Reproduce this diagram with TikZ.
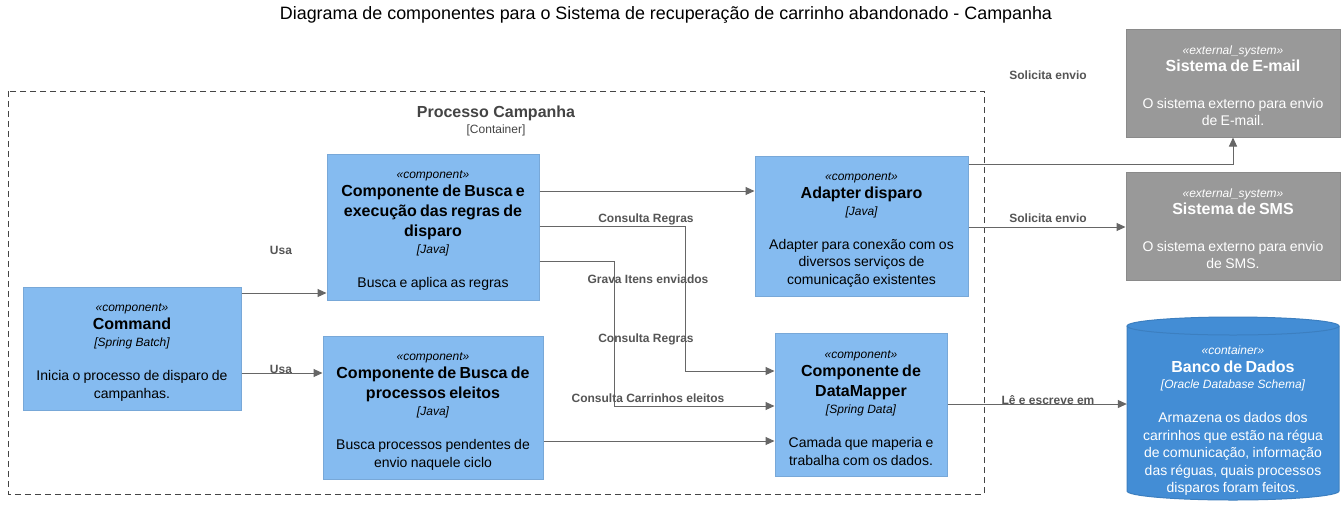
\documentclass[tikz,border=0pt]{standalone}
\usepackage{fontspec}
\setmainfont{Liberation Sans}
\usetikzlibrary{arrows.meta}
\definecolor{compfill}{HTML}{85BBF0}
\definecolor{compline}{HTML}{78A8D8}
\definecolor{extfill}{HTML}{999999}
\definecolor{extline}{HTML}{8A8A8A}
\definecolor{dbfill}{HTML}{438DD5}
\definecolor{dbline}{HTML}{3C7FC0}
\definecolor{relcol}{HTML}{666666}
\definecolor{lblcol}{HTML}{555555}
\definecolor{bndcol}{HTML}{444444}
\newcommand\cmpt[3]{%
{\fontsize{12pt}{14pt}\itshape\selectfont \rule{0pt}{15.5pt}«component»\par}%
\vspace{-2pt}{\fontsize{16pt}{20pt}\bfseries\selectfont #1\par}%
{\fontsize{12pt}{17pt}\itshape\selectfont [#2]\par}%
\vspace{16.5pt}{\fontsize{14pt}{17.5pt}\selectfont #3\par}}
\newcommand\extc[2]{%
{\fontsize{12pt}{14pt}\itshape\selectfont \rule{0pt}{13.8pt}«external\_system»\par}%
\vspace{-3pt}{\fontsize{16pt}{20pt}\bfseries\selectfont #1\par}%
\vspace{19.5pt}{\fontsize{14pt}{17.5pt}\selectfont #2\par}}
\newcommand\dbc[3]{%
{\fontsize{12pt}{14pt}\itshape\selectfont \rule{0pt}{14.6pt}«container»\par}%
\vspace{-2pt}{\fontsize{16pt}{20pt}\bfseries\selectfont #1\par}%
{\fontsize{12pt}{16pt}\itshape\selectfont [#2]\par}%
\vspace{16.5pt}{\fontsize{14pt}{17.5pt}\selectfont #3\par}}
\begin{document}
\begin{tikzpicture}[x=1pt,y=-1pt,
  compbox/.style={draw=compline, fill=compfill, line width=1pt, inner sep=0pt, align=center, anchor=center},
  extbox/.style={draw=extline, fill=extfill, line width=1pt, inner sep=0pt, align=center, anchor=center, text=white},
  rel/.style={draw=relcol, line width=1pt, -{Triangle[length=9pt,width=8pt]}},
  lbl/.style={font=\fontsize{12pt}{14pt}\bfseries\selectfont, text=lblcol, inner sep=0pt},
  boundary/.style={draw=bndcol, line width=1pt, dash pattern=on 6pt off 4pt}]
\useasboundingbox (0,0) rectangle (1344,507);
\fill[white] (0,0) rectangle (1344,507);

\node[font=\fontsize{17.9pt}{20pt}\selectfont, inner sep=0pt] (title) at (666,15) {Diagrama de componentes para o Sistema de recuperação de carrinho abandonado - Campanha};

% boundary
\draw[boundary] (8,91) rectangle (984,494);
\node[font=\fontsize{16pt}{18pt}\bfseries\selectfont, text=bndcol, inner sep=0pt] (bndname) at (496,113) {Processo Campanha};
\node[font=\fontsize{12pt}{14pt}\selectfont, text=bndcol, inner sep=0pt] (bndtype) at (496,130) {[Container]};

% components
\node[compbox, minimum width=212pt, minimum height=146pt, text width=204pt] (busca) at (433,227)
  {\cmpt{Componente de Busca e\\execução das regras de\\disparo}{Java}{Busca e aplica as regras}};
\node[compbox, minimum width=213pt, minimum height=140pt, text width=205pt] (adapter) at (861.5,226)
  {\cmpt{Adapter disparo}{Java}{Adapter para conexão com os\\diversos serviços de\\comunicação existentes}};
\node[compbox, minimum width=218pt, minimum height=123pt, text width=210pt] (cmd) at (132,348.5)
  {\cmpt{Command}{Spring Batch}{Inicia o processo de disparo de\\campanhas.}};
\node[compbox, minimum width=220pt, minimum height=143pt, text width=212pt] (proc) at (433,407.5)
  {\cmpt{Componente de Busca de\\processos eleitos}{Java}{Busca processos pendentes de\\envio naquele ciclo}};
\node[compbox, minimum width=172pt, minimum height=143pt, text width=166pt] (dm) at (861,404.5)
  {\cmpt{Componente de\\DataMapper}{Spring Data}{Camada que maperia e\\trabalha com os dados.}};

% external systems
\node[extbox, minimum width=214pt, minimum height=108pt, text width=206pt] (email) at (1233,83)
  {\extc{Sistema de E-mail}{O sistema externo para envio\\de E-mail.}};
\node[extbox, minimum width=214pt, minimum height=108pt, text width=206pt] (sms) at (1233,226)
  {\extc{Sistema de SMS}{O sistema externo para envio\\de SMS.}};

% database cylinder
\filldraw[fill=dbfill, draw=dbline, line width=1pt]
  (1127,326) -- (1127,491) arc[start angle=180, end angle=0, x radius=106, y radius=9]
  -- (1339,326) arc[start angle=0, end angle=-180, x radius=106, y radius=9] -- cycle;
\draw[dbline, line width=1pt] (1127,326) arc[start angle=180, end angle=0, x radius=106, y radius=9];
\node[inner sep=0pt, align=center, text width=204pt, minimum width=212pt, text=white] (db) at (1233,418)
  {\dbc{Banco de Dados}{Oracle Database Schema}{Armazena os dados dos\\carrinhos que estão na régua\\de comunicação, informação\\das réguas, quais processos\\disparos foram feitos.}};

% relations
\draw[rel] (cmd.east |- 0,293) -- (busca.west |- 0,293);
\draw[rel] (cmd.east |- 0,373) -- (proc.west |- 0,373);
\draw[rel] (busca.east |- 0,191) -- (adapter.west |- 0,191);
\draw[rel] (busca.east |- 0,226) -| (685,371) -- (dm.west |- 0,371);
\draw[rel] (busca.east |- 0,261) -| (614,406) -- (dm.west |- 0,406);
\draw[rel] (proc.east |- 0,441) -- (dm.west |- 0,441);
\draw[rel] (adapter.east |- 0,164) -| (email.south);
\draw[rel] (adapter.east |- 0,227) -- (sms.west |- 0,227);
\draw[rel] (dm.east |- 0,404) -- (db.west |- 0,404);

% labels
\node[lbl] (l1) at (281,250) {Usa};
\node[lbl] (l2) at (281,369) {Usa};
\node[lbl] (l3) at (646,219) {Consulta Regras};
\node[lbl] (l4) at (648,279) {Grava Itens enviados};
\node[lbl] (l5) at (646,339) {Consulta Regras};
\node[lbl] (l6) at (648,398) {Consulta Carrinhos eleitos};
\node[lbl] (l7) at (1048,75) {Solicita envio};
\node[lbl] (l8) at (1048,218) {Solicita envio};
\node[lbl] (l9) at (1048,400) {Lê e escreve em};
\end{tikzpicture}
\end{document}
